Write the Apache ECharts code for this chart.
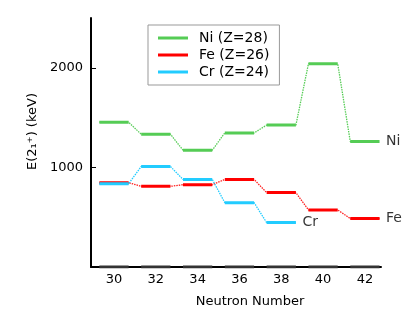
<!DOCTYPE html>
<html>
<head>
<meta charset="utf-8">
<style>
    html, body { margin: 0; padding: 0; background: #fff; }
    #chart { width: 415px; height: 325px; }
</style>
<script src="https://cdn.jsdelivr.net/npm/echarts@6/dist/echarts.min.js"></script>
</head>
<body>
<div id="chart"></div>
<script>
// neutron numbers
const neutrons = [30, 32, 34, 36, 38, 40, 42];
// E(2+1) in keV
const niValues = [1454, 1333, 1173, 1346, 1425, 2040, 1260];
const feValues = [847, 810, 826, 879, 747, 573, 487];
const crValues = [835, 1009, 879, 646, 446];
const xTicks = [30, 32, 34, 36, 38, 40, 42];
const yTicks = [1000, 2000];

// half width of a level line, in neutron units
const halfW = 0.7;
const font = 'DejaVu Sans';

// level lines: one flat piece per nucleus, broken by '-'
function levels(ns, vals) {
    let out = [];
    vals.forEach((v, i) => {
        out.push([ns[i] - halfW, v]);
        out.push([ns[i] + halfW, v]);
        if (i < vals.length - 1) out.push('-');
    });
    return out;
}
// the dotted connectors run through all level ends
function links(ns, vals) {
    let out = [];
    vals.forEach((v, i) => {
        out.push([ns[i] - halfW, v]);
        out.push([ns[i] + halfW, v]);
    });
    return out;
}

const chart = echarts.init(document.getElementById('chart'), null, { renderer: 'canvas' });

const levelSeries = (name, color, vals) => ({
    name: name,
    type: 'line',
    data: levels(neutrons, vals),
    showSymbol: false,
    symbol: 'none',
    connectNulls: false,
    lineStyle: { color: color, width: 3 },
    itemStyle: { color: color },
    z: 3,
    silent: true
});
const linkSeries = (color, vals) => ({
    type: 'line',
    data: links(neutrons, vals),
    symbol: 'none',
    lineStyle: { color: color, width: 1.3, type: [1.5, 1] },
    z: 2,
    silent: true
});
// element name at the right end of the last level
const tagSeries = (tag, vals) => ({
    type: 'scatter',
    data: [[neutrons[vals.length - 1] + halfW, vals[vals.length - 1]]],
    symbolSize: 1,
    itemStyle: { color: 'transparent' },
    label: {
        show: true, position: 'right', distance: 6,
        formatter: tag, color: '#000', fontSize: 14, fontFamily: font
    },
    z: 5,
    silent: true
});

const option = {
    animation: false,
    textStyle: { fontFamily: font },
    grid: { left: 91, right: 34, top: 18, bottom: 58 },
    legend: {
        data: ['Ni (Z=28)', 'Fe (Z=26)', 'Cr (Z=24)'],
        orient: 'vertical',
        left: 148,
        top: 25,
        padding: [6, 10, 6, 10],
        itemGap: 3,
        itemWidth: 30,
        itemHeight: 3,
        icon: 'rect',
        borderColor: '#999',
        borderWidth: 1,
        textStyle: { color: '#000', fontSize: 14, fontFamily: font, padding: [0, 0, 0, 6] }
    },
    xAxis: {
        type: 'value',
        min: 28.9,
        max: 42.77,
        name: 'Neutron Number',
        nameLocation: 'middle',
        nameGap: 28,
        nameTextStyle: { color: '#000', fontSize: 13, fontFamily: font, padding: [0, 0, 0, 28] },
        axisLine: { show: true, onZero: false, lineStyle: { color: '#000', width: 2 } },
        axisTick: { show: false },
        splitLine: { show: false },
        axisLabel: { customValues: xTicks, color: '#000', fontSize: 13, margin: 6, fontFamily: font }
    },
    yAxis: {
        type: 'value',
        min: 0,
        max: 2500,
        name: 'E(2\u2081\u207A) (keV)',
        nameLocation: 'middle',
        nameGap: 52,
        nameRotate: 90,
        nameTextStyle: { color: '#000', fontSize: 13, fontFamily: font, padding: [0, 0, 0, 22] },
        axisLine: { show: true, lineStyle: { color: '#000', width: 2 } },
        axisTick: { show: true, inside: true, length: 5, customValues: yTicks, lineStyle: { color: '#000' } },
        splitLine: { show: false },
        axisLabel: {
            customValues: yTicks, color: '#000', fontSize: 13, margin: 8, fontFamily: font,
            formatter: v => String(v)
        }
    },
    series: [
        linkSeries('#55cc55', niValues),
        linkSeries('#ff2020', feValues),
        linkSeries('#22ccff', crValues),
        levelSeries('Ni (Z=28)', '#55cc55', niValues),
        levelSeries('Fe (Z=26)', '#ff0000', feValues),
        levelSeries('Cr (Z=24)', '#22ccff', crValues),
        tagSeries('Ni', niValues),
        tagSeries('Fe', feValues),
        tagSeries('Cr', crValues),
        // dark base pieces on the x axis
        {
            type: 'line',
            data: levels(neutrons, neutrons.map(() => 0)),
            symbol: 'none',
            connectNulls: false,
            lineStyle: { color: '#333', width: 3 },
            z: 4,
            silent: true
        }
    ]
};
chart.setOption(option);
</script>
</body>
</html>
